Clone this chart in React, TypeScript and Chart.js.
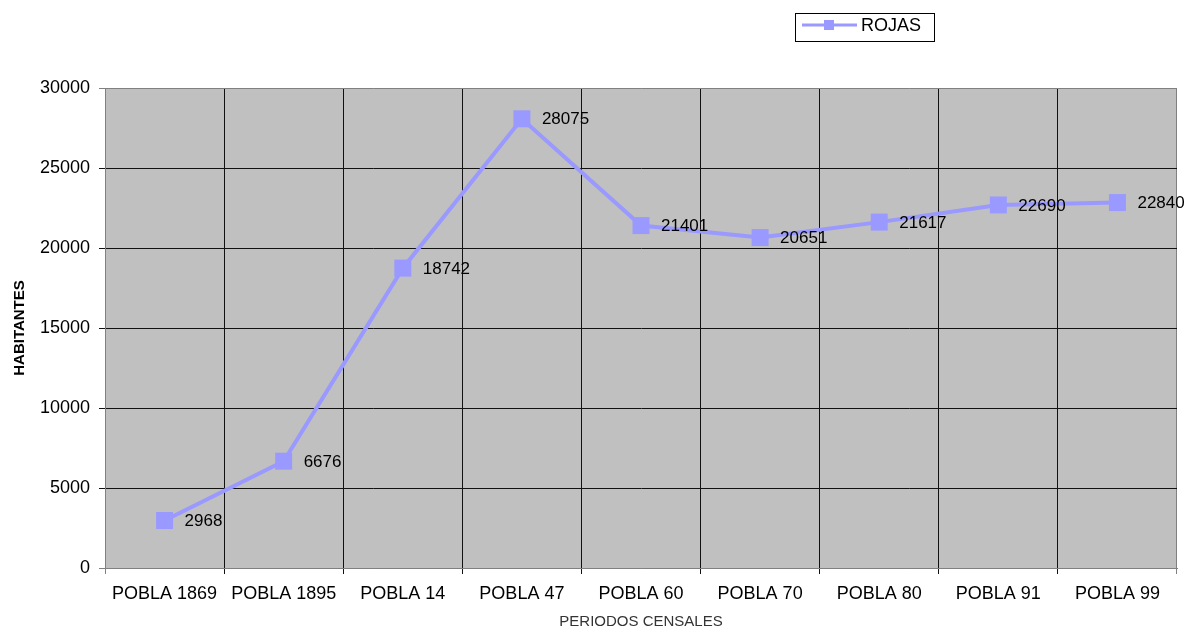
import React, { useEffect, useRef } from 'react';
import { Chart, registerables } from 'chart.js';

Chart.register(...registerables);

const categories = [
  'POBLA 1869',
  'POBLA 1895',
  'POBLA 14',
  'POBLA 47',
  'POBLA 60',
  'POBLA 70',
  'POBLA 80',
  'POBLA 91',
  'POBLA 99',
];
const rojasValues = [2968, 6676, 18742, 28075, 21401, 20651, 21617, 22690, 22840];
const seriesName = 'ROJAS';
const yMin = 0;
const yMax = 30000;
const yStep = 5000;
const xTitle = 'PERIODOS CENSALES';
const yTitle = 'HABITANTES';

const FONT = '"Liberation Sans", Arial, sans-serif';
const LINE_COLOR = '#9999FF';
const EDGE = '#808080';
const GRID = '#111111';

const bgPlugin = {
  id: 'plotBg',
  beforeDraw(chart: any) {
    const { ctx, chartArea } = chart;
    ctx.save();
    ctx.fillStyle = '#C0C0C0';
    ctx.fillRect(chartArea.left, chartArea.top, chartArea.right - chartArea.left, chartArea.bottom - chartArea.top);
    ctx.restore();
  },
};

const labelPlugin = {
  id: 'valueLabels',
  afterDatasetsDraw(chart: any) {
    const { ctx } = chart;
    const meta = chart.getDatasetMeta(0);
    const data = chart.data.datasets[0].data as number[];
    ctx.save();
    ctx.font = `17px ${FONT}`;
    ctx.fillStyle = '#000';
    ctx.textAlign = 'left';
    ctx.textBaseline = 'middle';
    meta.data.forEach((pt: any, i: number) => {
      ctx.fillText(String(data[i]), pt.x + 20, pt.y + 1);
    });
    ctx.restore();
  },
};

const legendPlugin = {
  id: 'boxLegend',
  afterDraw(chart: any) {
    const { ctx } = chart;
    ctx.save();
    ctx.strokeStyle = '#000';
    ctx.lineWidth = 1;
    ctx.strokeRect(795.5, 13.5, 139, 28);
    ctx.strokeStyle = LINE_COLOR;
    ctx.lineWidth = 3;
    ctx.beginPath();
    ctx.moveTo(802, 25);
    ctx.lineTo(857, 25);
    ctx.stroke();
    ctx.fillStyle = LINE_COLOR;
    ctx.fillRect(824, 20, 10, 10);
    ctx.fillStyle = '#000';
    ctx.font = `18px ${FONT}`;
    ctx.textAlign = 'left';
    ctx.textBaseline = 'middle';
    ctx.fillText(seriesName, 861, 26);
    ctx.restore();
  },
};

export default function App() {
  const ref = useRef<HTMLCanvasElement>(null);

  useEffect(() => {
    document.body.style.margin = '0';
    const canvas = ref.current;
    if (!canvas) return;
    const chart = new Chart(canvas, {
      type: 'line',
      data: {
        labels: categories,
        datasets: [
          {
            label: seriesName,
            data: rojasValues,
            borderColor: LINE_COLOR,
            backgroundColor: LINE_COLOR,
            borderWidth: 4,
            pointStyle: 'rect',
            pointRadius: 12,
            pointBorderWidth: 0,
            pointBackgroundColor: LINE_COLOR,
            tension: 0,
          },
        ],
      },
      options: {
        responsive: false,
        animation: false,
        layout: { padding: { top: 88, right: 22, left: 0, bottom: 0 } },
        plugins: {
          legend: { display: false },
          tooltip: { enabled: false },
        },
        scales: {
          x: {
            type: 'category',
            offset: true,
            grid: {
              offset: true,
              color: (c: any) => (c.index === undefined || c.index === 0 ? EDGE : GRID),
              tickLength: 6,
              lineWidth: 1,
            },
            border: { color: EDGE },
            ticks: {
              font: { family: FONT, size: 18 },
              color: '#000',
              padding: 9,
              maxRotation: 0,
              autoSkip: false,
            },
            title: {
              display: true,
              text: xTitle,
              font: { family: FONT, size: 15 },
              color: '#333',
              padding: { top: 0, bottom: 4 },
            },
            afterFit: (s: any) => {
              s.height = 67;
            },
          },
          y: {
            min: yMin,
            max: yMax,
            ticks: {
              stepSize: yStep,
              font: { family: FONT, size: 18 },
              color: '#000',
              padding: 9,
              callback: (v: any) => String(v),
            },
            grid: {
              color: (c: any) => (c.index === 0 || c.tick?.value === yMax ? EDGE : GRID),
              tickLength: 6,
              lineWidth: 1,
            },
            border: { color: EDGE },
            title: {
              display: true,
              text: yTitle,
              font: { family: FONT, size: 15, weight: 'bold' },
              color: '#000',
              padding: { top: 11, bottom: 0 },
            },
            afterFit: (s: any) => {
              s.width = 105;
            },
          },
        },
      },
      plugins: [bgPlugin, labelPlugin, legendPlugin],
    } as any);
    return () => chart.destroy();
  }, []);

  return (
    <div style={{ width: 1199, height: 635 }}>
      <canvas ref={ref} width={1199} height={635} style={{ display: 'block' }} />
    </div>
  );
}
